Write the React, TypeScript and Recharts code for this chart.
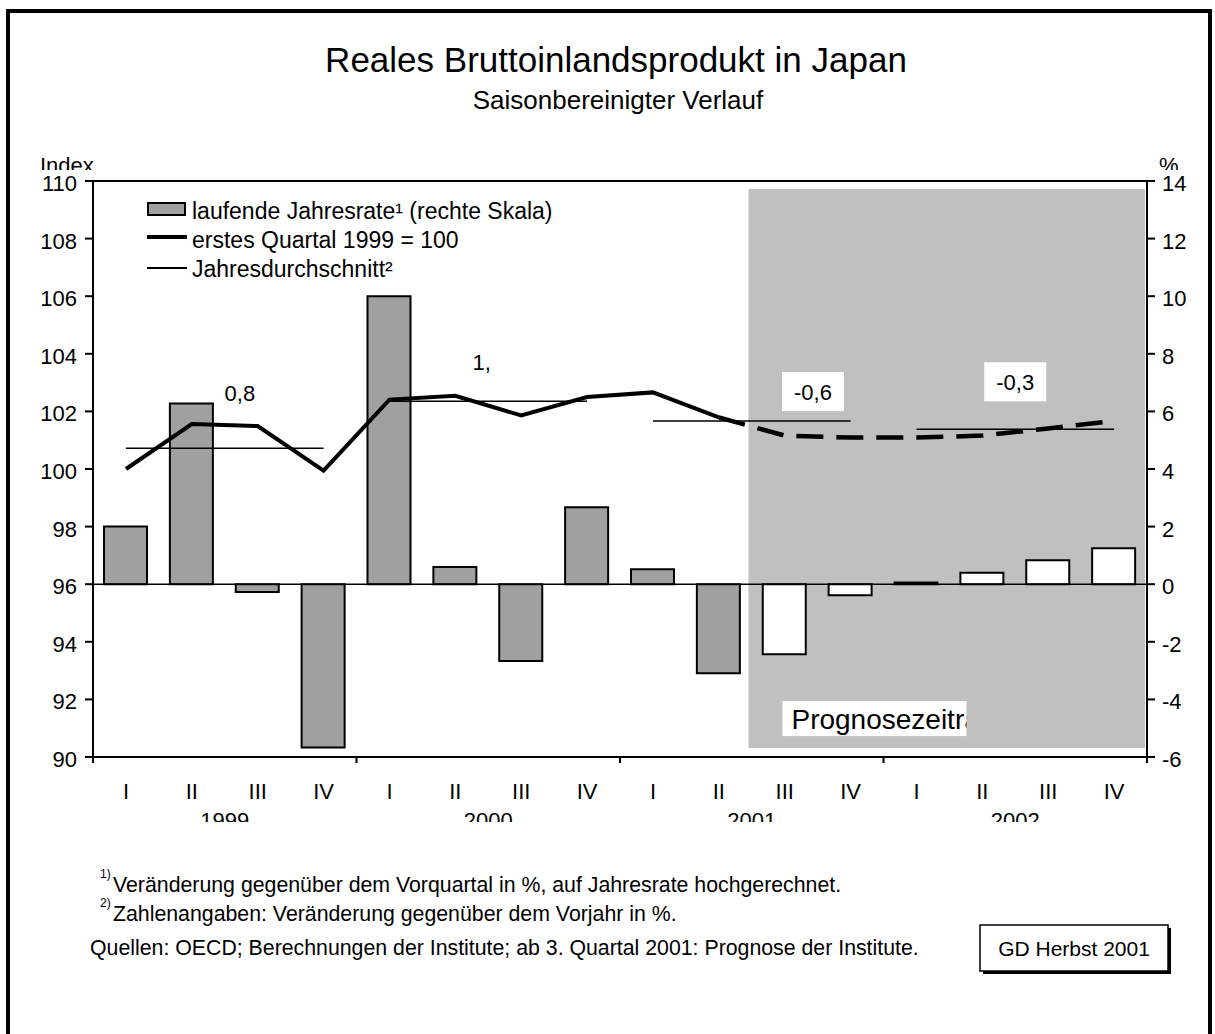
import React from "react";
import {
  ComposedChart,
  Bar,
  Line,
  XAxis,
  YAxis,
  Cell,
  Legend,
  ReferenceArea,
  ReferenceLine,
  ReferenceDot,
} from "recharts";

const FONT = '"Liberation Sans", Arial, Helvetica, sans-serif';

const quarters = ["I", "II", "III", "IV"];
const years = ["1999", "2000", "2001", "2002"];
// laufende Jahresrate in % (rechte Skala)
const annualRate = [2.0, 6.27, -0.27, -5.67, 10.0, 0.6, -2.67, 2.67, 0.52, -3.09, -2.43, -0.38, 0.06, 0.4, 0.83, 1.25];
// erstes Quartal 1999 = 100 (linke Skala)
const gdpIndex = [100.0, 101.56, 101.49, 99.94, 102.41, 102.54, 101.86, 102.5, 102.66, 101.79, 101.16, 101.09, 101.09, 101.16, 101.41, 101.67];
// Jahresdurchschnitt
const yearAverage = [100.72, 102.35, 101.67, 101.38];
const yearGrowth = ["0,8", "1,", "-0,6", "-0,3"];
const forecastFrom = 10; // ab 3. Quartal 2001

const leftTicks = [90, 92, 94, 96, 98, 100, 102, 104, 106, 108, 110];
const rightTicks = [-6, -4, -2, 0, 2, 4, 6, 8, 10, 12, 14];

// where the growth numbers sit (in axis units) and whether they get a white box
const growthLabelAt = [
  { x: 2.23, y: 102.63, boxed: false },
  { x: 5.9, y: 103.71, boxed: false },
  { x: 10.93, y: 102.67, boxed: true },
  { x: 14.0, y: 103.01, boxed: true },
];

const data = annualRate.map((rate, i) => ({
  pos: i + 0.5,
  rate,
  actual: i <= forecastFrom - 1 ? gdpIndex[i] : null,
  forecast: i >= forecastFrom - 1 ? gdpIndex[i] : null,
}));

const xTicks: number[] = [];
years.forEach((_, y) => {
  xTicks.push(y * 4);
  quarters.forEach((_, q) => xTicks.push(y * 4 + q + 0.5));
  xTicks.push(y * 4 + 2);
});
xTicks.push(years.length * 4);
xTicks.sort((a, b) => a - b);

const XTick = (props: any) => {
  const { x, y, payload } = props;
  const v = payload.value as number;
  if (v % 4 === 0) {
    return <line x1={x} x2={x} y1={y} y2={y + 6} stroke="#000" strokeWidth={2} />;
  }
  if (v % 1 === 0.5) {
    return (
      <text x={x} y={y + 42} textAnchor="middle" fontSize={22} fontFamily={FONT} fill="#000">
        {quarters[Math.floor(v) % 4]}
      </text>
    );
  }
  const id = `yearclip-${v}`;
  return (
    <g>
      <clipPath id={id}>
        <rect x={x - 60} y={y} width={120} height={65} />
      </clipPath>
      <text x={x} y={y + 71} textAnchor="middle" fontSize={22} fontFamily={FONT} fill="#000" clipPath={`url(#${id})`}>
        {years[Math.floor(v / 4)]}
      </text>
    </g>
  );
};

const YTick = (props: any) => {
  const { x, y, payload, orientation } = props;
  return (
    <text
      x={x}
      y={y + 10}
      textAnchor={orientation === "right" ? "start" : "end"}
      fontSize={22}
      fontFamily={FONT}
      fill="#000"
    >
      {payload.value}
    </text>
  );
};

const GrowthLabel = ({ viewBox, text, boxed }: any) => {
  const cx = viewBox.x + viewBox.width / 2;
  const cy = viewBox.y + viewBox.height / 2;
  return (
    <g>
      {boxed && <rect x={cx - 31} y={cy - 20} width={62} height={39} fill="#fff" />}
      <text x={cx} y={cy + 8} textAnchor="middle" fontSize={22} fontFamily={FONT} fill="#000">
        {text}
      </text>
    </g>
  );
};

const ForecastLabel = ({ viewBox }: any) => {
  const bx = viewBox.x + 34;
  const by = viewBox.y + viewBox.height - 47;
  return (
    <g>
      <clipPath id="prognose-clip">
        <rect x={bx} y={by} width={184} height={35} />
      </clipPath>
      <rect x={bx} y={by} width={184} height={35} fill="#fff" />
      <text x={bx + 9} y={by + 28} fontSize={28} fontFamily={FONT} fill="#000" clipPath="url(#prognose-clip)">
        Prognosezeitraum
      </text>
    </g>
  );
};

const LegendBox = () => {
  const row: React.CSSProperties = { display: "flex", alignItems: "flex-start", height: 29, lineHeight: "29px" };
  const icon: React.CSSProperties = { width: 40, height: 29, position: "relative", marginRight: 5 };
  return (
    <div style={{ fontFamily: FONT, fontSize: 23, color: "#000", whiteSpace: "nowrap" }}>
      <div style={row}>
        <div style={icon}>
          <div style={{ position: "absolute", left: 0, top: 5, width: 39, height: 14, boxSizing: "border-box", border: "2px solid #000", background: "#a0a0a0" }} />
        </div>
        <span>laufende Jahresrate¹ (rechte Skala)</span>
      </div>
      <div style={row}>
        <div style={icon}>
          <div style={{ position: "absolute", left: 0, top: 9, width: 40, height: 4, background: "#000" }} />
        </div>
        <span>erstes Quartal 1999 = 100</span>
      </div>
      <div style={row}>
        <div style={icon}>
          <div style={{ position: "absolute", left: 0, top: 12, width: 40, height: 1.5, background: "#000" }} />
        </div>
        <span>Jahresdurchschnitt²</span>
      </div>
    </div>
  );
};

export default function App() {
  return (
    <div style={{ position: "absolute", left: 0, top: 0, width: 1215, height: 1034, overflow: "hidden", background: "#fff" }}>
      <ComposedChart width={1215} height={1034} data={data} margin={{ top: 181, right: 0, bottom: 207, left: 0 }}>
        <XAxis
          dataKey="pos"
          type="number"
          domain={[0, 16]}
          ticks={xTicks}
          interval={0}
          tickLine={false}
          tickSize={0}
          tickMargin={0}
          height={70}
          axisLine={{ stroke: "#000", strokeWidth: 2 }}
          tick={<XTick />}
        />
        <YAxis
          yAxisId="left"
          domain={[90, 110]}
          ticks={leftTicks}
          interval={0}
          width={93}
          tickSize={8}
          tickMargin={8}
          axisLine={{ stroke: "#000", strokeWidth: 2 }}
          tickLine={{ stroke: "#000", strokeWidth: 2 }}
          tick={<YTick />}
        />
        <YAxis
          yAxisId="right"
          orientation="right"
          domain={[-6, 14]}
          ticks={rightTicks}
          interval={0}
          width={68}
          tickSize={8}
          tickMargin={7}
          axisLine={{ stroke: "#000", strokeWidth: 2 }}
          tickLine={{ stroke: "#000", strokeWidth: 2 }}
          tick={<YTick orientation="right" />}
        />
        <ReferenceArea
          yAxisId="left"
          x1={forecastFrom - 0.05}
          x2={15.97}
          y1={90.31}
          y2={109.72}
          fill="#c0c0c0"
          fillOpacity={1}
          stroke="none"
          label={{ content: (p: any) => <ForecastLabel viewBox={p.viewBox} /> }}
        />
        <ReferenceLine yAxisId="left" y={110} stroke="#000" strokeWidth={2} />
        <ReferenceLine yAxisId="right" y={0} stroke="#000" strokeWidth={1.5} />
        <Bar dataKey="rate" yAxisId="right" barSize={43} stroke="#000" strokeWidth={2} isAnimationActive={false}>
          {data.map((d, i) => (
            <Cell key={i} fill={i >= forecastFrom ? "#ffffff" : "#a0a0a0"} />
          ))}
        </Bar>
        {yearAverage.map((avg, y) => (
          <ReferenceLine
            key={`avg-${y}`}
            yAxisId="left"
            segment={[
              { x: y * 4 + 0.5, y: avg },
              { x: y * 4 + 3.5, y: avg },
            ]}
            stroke="#000"
            strokeWidth={1.5}
          />
        ))}
        <Line
          dataKey="actual"
          yAxisId="left"
          type="linear"
          stroke="#000"
          strokeWidth={4}
          dot={false}
          activeDot={false}
          connectNulls={false}
          isAnimationActive={false}
        />
        <Line
          dataKey="forecast"
          yAxisId="left"
          type="linear"
          stroke="#000"
          strokeWidth={4.5}
          strokeDasharray="27 13"
          dot={false}
          activeDot={false}
          connectNulls={false}
          isAnimationActive={false}
        />
        {yearGrowth.map((g, y) => (
          <ReferenceDot
            key={`growth-${y}`}
            yAxisId="left"
            x={growthLabelAt[y].x}
            y={growthLabelAt[y].y}
            r={1}
            fill="none"
            stroke="none"
            label={{ content: (p: any) => <GrowthLabel viewBox={p.viewBox} text={g} boxed={growthLabelAt[y].boxed} /> }}
          />
        ))}
        <Legend
          layout="horizontal"
          align="center"
          verticalAlign="middle"
          wrapperStyle={{ left: 147, top: 197, width: "auto" }}
          content={() => <LegendBox />}
        />
      </ComposedChart>

      <svg width={1215} height={1034} style={{ position: "absolute", left: 0, top: 0, pointerEvents: "none" }}>
        <defs>
          <clipPath id="axis-title-clip">
            <rect x={0} y={140} width={1215} height={30} />
          </clipPath>
        </defs>
        <rect x={8} y={11} width={1202} height={1100} fill="none" stroke="#000" strokeWidth={4} />
        <text x={616} y={72} textAnchor="middle" fontSize={35} fontFamily={FONT} fill="#000">
          Reales Bruttoinlandsprodukt in Japan
        </text>
        <text x={618} y={109} textAnchor="middle" fontSize={26} fontFamily={FONT} fill="#000">
          Saisonbereinigter Verlauf
        </text>
        <g clipPath="url(#axis-title-clip)" fontSize={22} fontFamily={FONT} fill="#000">
          <text x={40} y={173}>Index</text>
          <text x={1159} y={173}>%</text>
        </g>
        <g fontFamily={FONT} fill="#000">
          <text x={100} y={878} fontSize={12}>1)</text>
          <text x={113} y={892} fontSize={21.3}>Veränderung gegenüber dem Vorquartal in %, auf Jahresrate hochgerechnet.</text>
          <text x={100} y={907} fontSize={12}>2)</text>
          <text x={113} y={921} fontSize={21.3}>Zahlenangaben: Veränderung gegenüber dem Vorjahr in %.</text>
          <text x={90} y={955} fontSize={21.3}>Quellen: OECD; Berechnungen der Institute; ab 3. Quartal 2001: Prognose der Institute.</text>
        </g>
        <rect x={983} y={928} width={188} height={46} fill="#000" />
        <rect x={980} y={925} width={188} height={46} fill="#fff" stroke="#000" strokeWidth={1.5} />
        <text x={1074} y={956} textAnchor="middle" fontSize={21} fontFamily={FONT} fill="#000">
          GD Herbst 2001
        </text>
      </svg>
    </div>
  );
}
